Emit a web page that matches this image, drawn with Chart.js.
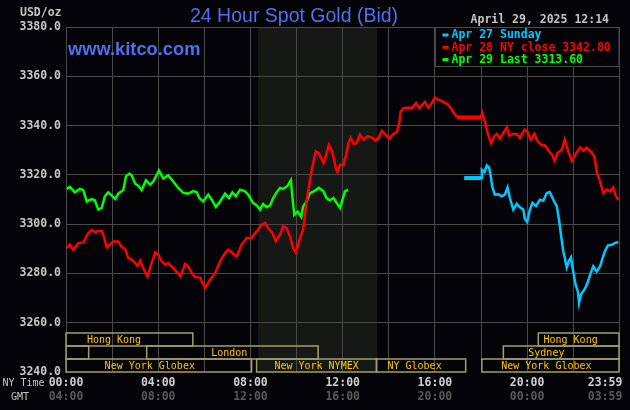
<!DOCTYPE html>
<html>
<head>
<meta charset="utf-8">
<title>24 Hour Spot Gold (Bid)</title>
<script src="https://cdn.jsdelivr.net/npm/chart.js@4"></script>
<style>
  html, body { margin: 0; padding: 0; background: #040408; }
  canvas { display: block; }
</style>
</head>
<body>
<canvas id="gold-chart" width="630" height="410"></canvas>
<script>
// times are minutes after midnight, New York time
const apr27Min = [1036, 1080, 1082, 1089, 1095, 1101, 1106, 1109, 1116, 1125, 1134, 1142, 1149, 1155, 1164, 1173,
    1181, 1190, 1194, 1200, 1207, 1214, 1223, 1233, 1242, 1251, 1259, 1268, 1277, 1283, 1288, 1294, 1298, 1303,
    1309, 1314, 1320, 1326, 1332, 1335, 1340, 1349, 1357, 1364, 1372, 1381, 1390, 1395, 1402, 1410, 1420, 1428, 1437];
const apr27Px = [3318.7, 3318.7, 3322.1, 3321.2, 3323.8, 3323.0, 3318.7, 3315.3, 3312.0, 3312.1, 3311.3, 3312.0, 3314.9,
    3310.6, 3305.9, 3308.2, 3306.8, 3305.9, 3302.2, 3300.9, 3305.9, 3308.6, 3307.3, 3309.9, 3309.5, 3312.6, 3313.0,
    3309.9, 3307.3, 3301.8, 3295.7, 3288.9, 3286.3, 3282.4, 3285.2, 3286.5, 3280.8, 3275.4, 3272.7, 3268.0, 3271.4,
    3273.4, 3276.1, 3279.5, 3282.9, 3280.8, 3282.9, 3285.6, 3288.9, 3291.4, 3291.6, 3292.3, 3292.8];

const apr28Min = [2, 10, 19, 32, 45, 49, 58, 67, 75, 84, 93, 97, 106, 114, 123, 136, 145, 154, 162, 171, 180, 186, 193,
    201, 212, 220, 232, 240, 249, 258, 266, 279, 292, 298, 310, 318, 327, 336, 349, 362, 375, 388, 401, 414, 422, 431,
    444, 457, 470, 483, 492, 500, 509, 518, 526, 537, 546, 557, 565, 574, 583, 591, 598, 604, 612, 617, 626, 635, 641,
    650, 658, 670, 676, 684, 693, 703, 706, 713, 722, 729, 735, 741, 748, 756, 765, 774, 784, 796, 804, 813, 822, 830,
    841, 850, 861, 867, 871, 878, 891, 900, 911, 919, 934, 943, 952, 960, 969, 982, 995, 1006, 1017, 1080, 1083, 1090,
    1097, 1106, 1114, 1121, 1129, 1138, 1147, 1153, 1164, 1173, 1181, 1193, 1201, 1209, 1219, 1227, 1238, 1246, 1257,
    1265, 1271, 1279, 1290, 1298, 1307, 1316, 1325, 1338, 1346, 1355, 1366, 1375, 1381, 1390, 1398, 1407, 1416, 1424,
    1430, 1437];
const apr28Px = [3290.3, 3291.7, 3289.6, 3292.3, 3292.6, 3293.7, 3296.4, 3297.7, 3296.7, 3297.2, 3297.2, 3295.7, 3290.7,
    3291.7, 3293.0, 3293.0, 3290.7, 3289.9, 3286.3, 3285.6, 3284.2, 3283.1, 3285.2, 3282.2, 3278.8, 3282.9, 3288.5,
    3287.6, 3284.9, 3283.5, 3284.2, 3282.2, 3279.9, 3278.8, 3283.9, 3282.9, 3280.2, 3278.5, 3278.3, 3274.1, 3277.5,
    3280.2, 3284.9, 3288.3, 3289.6, 3288.5, 3286.9, 3291.7, 3294.4, 3294.4, 3296.4, 3297.7, 3299.8, 3300.5, 3298.4,
    3296.4, 3293.0, 3295.7, 3299.1, 3298.4, 3295.0, 3290.3, 3288.5, 3291.7, 3295.7, 3297.7, 3309.2, 3318.0, 3323.4,
    3329.5, 3328.8, 3324.8, 3327.5, 3332.2, 3329.5, 3322.1, 3321.2, 3324.1, 3324.0, 3328.2, 3332.9, 3335.0, 3332.6,
    3332.9, 3336.3, 3334.3, 3335.6, 3335.2, 3333.9, 3334.9, 3337.9, 3336.5, 3334.7, 3336.4, 3337.4, 3341.0, 3345.7,
    3347.1, 3347.3, 3347.1, 3349.2, 3347.1, 3349.6, 3347.3, 3349.2, 3351.4, 3350.5, 3349.6, 3348.5, 3346.0, 3343.3,
    3343.3, 3345.1, 3341.7, 3337.0, 3332.9, 3335.6, 3336.6, 3334.7, 3337.0, 3339.3, 3335.9, 3336.6, 3336.6, 3335.0,
    3338.3, 3337.4, 3334.3, 3336.6, 3333.6, 3332.0, 3332.0, 3329.5, 3328.2, 3325.7, 3328.9, 3330.2, 3334.3, 3329.5,
    3325.7, 3328.2, 3331.1, 3329.8, 3331.0, 3329.3, 3327.5, 3321.2, 3317.3, 3312.6, 3314.0, 3313.3, 3314.9, 3311.7,
    3309.9];

const apr29Min = [2, 10, 23, 36, 45, 54, 67, 75, 84, 93, 101, 110, 119, 128, 136, 149, 156, 165, 171, 180, 188, 197, 208,
    219, 227, 242, 253, 266, 279, 292, 305, 318, 331, 340, 347, 357, 370, 379, 390, 401, 414, 424, 433, 442, 453, 466,
    474, 487, 496, 505, 513, 522, 531, 539, 548, 557, 565, 577, 585, 589, 594, 603, 612, 617, 626, 635, 648, 658, 670,
    678, 687, 696, 713, 726, 734];
const apr29Px = [3314.3, 3315.1, 3312.9, 3314.3, 3313.8, 3309.2, 3310.2, 3309.7, 3305.9, 3306.6, 3311.3, 3312.9, 3311.6,
    3310.2, 3312.4, 3313.8, 3319.4, 3320.5, 3319.7, 3316.4, 3315.6, 3313.8, 3317.8, 3316.0, 3317.3, 3321.8, 3318.5,
    3319.8, 3317.3, 3314.7, 3312.7, 3312.4, 3313.4, 3313.0, 3310.6, 3309.2, 3312.0, 3310.0, 3307.0, 3309.2, 3312.4,
    3310.6, 3312.9, 3311.3, 3314.0, 3313.3, 3312.0, 3308.5, 3307.7, 3305.9, 3308.2, 3306.9, 3307.6, 3310.6, 3312.9,
    3314.7, 3314.3, 3315.6, 3317.8, 3311.3, 3303.8, 3305.1, 3302.9, 3307.2, 3309.2, 3312.6, 3313.6, 3314.7, 3313.3,
    3310.6, 3309.7, 3310.6, 3306.6, 3313.3, 3314.0];

const seriesLabels = ['Apr 27 Sunday', 'Apr 28 NY close 3342.80', 'Apr 29 Last 3313.60'];
const seriesColors = ['#00c8ff', '#ff0000', '#00ff00'];

const xTicks = [0, 120, 240, 360, 480, 600, 720, 840, 960, 1080, 1200, 1320, 1439];
const nymexHours = [500, 810];

const sessionNames = ['Hong Kong', 'Hong Kong', '', 'London', 'Sydney',
    'New York Globex', 'New York NYMEX', 'NY Globex', 'New York Globex'];
const sessionStart = [0, 1229, 0, 210, 1138, 0, 496, 808, 1082];
const sessionEnd = [330, 1439, 59, 656, 1439, 483, 808, 1040, 1439];
const sessionRow = [0, 0, 1, 1, 1, 2, 2, 2, 2];
// where each session's name sits (minutes)
const sessionLabelAt = [125, 1313, 0, 425, 1250, 218, 652, 907, 1250];

const toPairs = (mins, vals) => mins.map((m, i) => ({ x: m, y: vals[i] }));

function hhmm(m) {
    m = ((m % 1440) + 1440) % 1440;
    const h = Math.floor(m / 60), mm = m % 60;
    return String(h).padStart(2, '0') + ':' + String(mm).padStart(2, '0');
}

const mono = 'DejaVu Sans Mono';
const gridColor = '#4a4a4a';

const kitcoDecor = {
    id: 'kitcoDecor',
    beforeDraw(chart) {
        const ctx = chart.ctx;
        const area = chart.chartArea;
        const xs = chart.scales.x;
        ctx.save();
        ctx.fillStyle = '#040408';
        ctx.fillRect(0, 0, chart.width, chart.height);
        const x0 = xs.getPixelForValue(nymexHours[0]);
        const x1 = xs.getPixelForValue(nymexHours[1]);
        ctx.fillStyle = '#161816';
        ctx.fillRect(x0, area.top, x1 - x0, area.bottom - area.top);
        ctx.restore();
    },
    afterDatasetsDraw(chart) {
        const ctx = chart.ctx;
        const area = chart.chartArea;
        const xs = chart.scales.x;
        ctx.save();

        // trading session boxes along the bottom
        const rowH = 13;
        ctx.lineWidth = 1.5;
        ctx.strokeStyle = '#a39d6a';
        ctx.font = '10px "' + mono + '"';
        ctx.textAlign = 'center';
        ctx.textBaseline = 'middle';
        sessionNames.forEach((name, i) => {
            const l = xs.getPixelForValue(sessionStart[i]);
            const r = xs.getPixelForValue(sessionEnd[i]);
            const b = area.bottom - (2 - sessionRow[i]) * rowH;
            ctx.strokeRect(l, b - rowH, r - l, rowH);
            if (name) {
                ctx.fillStyle = '#ffc800';
                ctx.fillText(name, xs.getPixelForValue(sessionLabelAt[i]), b - rowH / 2 + 1);
            }
        });

        // legend box, top right
        ctx.fillStyle = '#040408';
        ctx.fillRect(435.5, area.top, area.right - 435.5, 39);
        ctx.strokeStyle = gridColor;
        ctx.lineWidth = 1;
        ctx.strokeRect(435.5, area.top + 0.5, area.right - 435.5, 39);
        ctx.font = 'bold 11.5px "' + mono + '"';
        ctx.textAlign = 'left';
        chart.data.datasets.forEach((ds, i) => {
            const y = area.top + 7.5 + i * 12.3;
            ctx.fillStyle = ds.borderColor;
            ctx.fillRect(442.5, y - 1, 6, 3);
            ctx.fillText(ds.label, 451.5, y + 1);
        });

        // headings
        ctx.fillStyle = '#5070f0';
        ctx.font = '19.5px "Liberation Sans"';
        ctx.textBaseline = 'alphabetic';
        ctx.fillText('24 Hour Spot Gold (Bid)', 190, 22);
        ctx.font = 'bold 18.3px "Liberation Sans"';
        ctx.fillText('www.kitco.com', 68, 55);

        ctx.fillStyle = '#c4c4c4';
        ctx.font = 'bold 11.5px "' + mono + '"';
        ctx.textBaseline = 'middle';
        ctx.textAlign = 'right';
        ctx.fillText('April 29, 2025 12:14', 609, 20.5);
        ctx.fillText('USD/oz', 61.5, 13.5);

        ctx.textAlign = 'left';
        ctx.font = '10px "' + mono + '"';
        ctx.fillStyle = '#c8c8c8';
        ctx.fillText('NY Time', 2.5, 383.5);
        ctx.fillText('GMT', 11, 397.5);
        ctx.restore();
    }
};

const fixPad = scale => { scale.paddingLeft = 0; scale.paddingRight = 0; };

new Chart(document.getElementById('gold-chart'), {
    type: 'line',
    data: {
        datasets: [
            { label: seriesLabels[0], data: toPairs(apr27Min, apr27Px), borderColor: seriesColors[0] },
            { label: seriesLabels[1], data: toPairs(apr28Min, apr28Px), borderColor: seriesColors[1] },
            { label: seriesLabels[2], data: toPairs(apr29Min, apr29Px), borderColor: seriesColors[2] }
        ]
    },
    options: {
        responsive: false,
        animation: false,
        devicePixelRatio: 1,
        layout: { padding: { top: 27, right: 11, bottom: 0, left: 0 } },
        elements: {
            point: { radius: 0 },
            line: { borderWidth: 2.5, tension: 0 }
        },
        datasets: {
            line: {
                segment: {
                    borderWidth: c => (c.p0.parsed.y === c.p1.parsed.y && c.p1.parsed.x - c.p0.parsed.x > 30) ? 4 : 2.5
                }
            }
        },
        plugins: {
            legend: { display: false },
            title: { display: false },
            tooltip: { enabled: false }
        },
        scales: {
            x: {
                type: 'linear',
                position: 'bottom',
                min: 0,
                max: 1439,
                afterBuildTicks: s => { s.ticks = xTicks.map(v => ({ value: v })); },
                afterFit: s => { s.height = 16; fixPad(s); },
                grid: { color: gridColor, drawTicks: false },
                border: { display: false },
                ticks: {
                    autoSkip: false,
                    maxRotation: 0,
                    padding: 4,
                    color: '#d0d0d0',
                    font: { family: mono, size: 11.5, weight: 'bold' },
                    callback: v => v === 1439 ? '23:59    ' : (v % 240 === 0 ? hhmm(v) : '')
                }
            },
            gmt: {
                type: 'linear',
                position: 'bottom',
                min: 0,
                max: 1439,
                afterBuildTicks: s => { s.ticks = xTicks.map(v => ({ value: v })); },
                afterFit: s => { s.height = 22; fixPad(s); },
                grid: { display: false, drawTicks: false },
                border: { display: false },
                ticks: {
                    autoSkip: false,
                    maxRotation: 0,
                    padding: 2,
                    color: '#5a5a5a',
                    font: { family: mono, size: 11.5, weight: 'bold' },
                    callback: v => v === 1439 ? '03:59    ' : (v % 240 === 0 ? hhmm(v + 240) : '')
                }
            },
            y: {
                min: 3240,
                max: 3380,
                afterFit: s => { s.width = 66; },
                grid: {
                    drawTicks: false,
                    color: c => (c.tick && c.tick.value === 3240) ? 'rgba(0,0,0,0)' : gridColor
                },
                border: { color: gridColor },
                ticks: {
                    stepSize: 20,
                    padding: 5,
                    color: '#c8c8c8',
                    font: { family: mono, size: 11.5, weight: 'bold' },
                    callback: v => v.toFixed(1)
                }
            }
        }
    },
    plugins: [kitcoDecor]
});
</script>
</body>
</html>
